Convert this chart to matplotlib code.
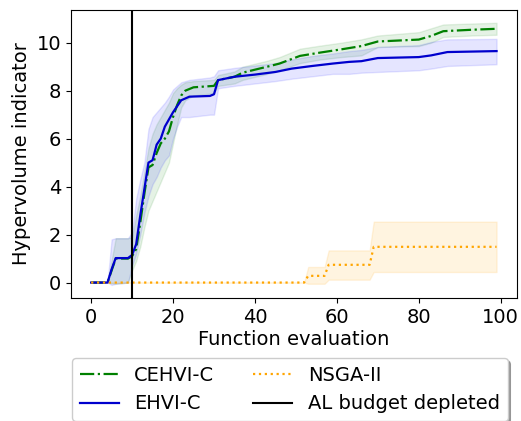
import matplotlib
matplotlib.use("Agg")
import matplotlib.pyplot as plt

# CEHVI-C (mean and band)
x_cehvi = [0, 4, 6, 9, 10, 11, 12, 13, 14, 15, 16, 17, 18, 19, 20, 21, 22, 23, 25, 30,
           31, 35, 37, 43, 46, 51, 56, 61, 66, 70, 80, 83, 86, 93, 99]
mean_cehvi = [0, 0, 1.0, 1.0, 1.1, 1.4, 2.5, 3.7, 4.8, 4.9, 5.4, 5.8, 6.0, 6.3, 6.9, 7.4, 7.8, 8.0, 8.14, 8.2,
              8.44, 8.58, 8.75, 9.0, 9.13, 9.45, 9.59, 9.72, 9.86, 10.05, 10.13, 10.28, 10.48, 10.54, 10.58]
lo_cehvi = [0, 0, -0.05, 0, 0.5, 0.9, 1.5, 2.3, 3.0, 3.4, 3.8, 4.2, 4.6, 5.0, 5.8, 6.6, 7.3, 7.6, 7.8, 7.9,
            8.2, 8.3, 8.45, 8.7, 8.85, 9.15, 9.3, 9.4, 9.47, 9.82, 9.86, 10.0, 10.24, 10.3, 10.33]
hi_cehvi = [0, 0, 1.85, 1.85, 1.9, 2.8, 3.6, 4.6, 5.6, 6.2, 6.6, 6.9, 7.2, 7.5, 7.9, 8.1, 8.25, 8.35, 8.4, 8.45,
            8.65, 8.8, 9.0, 9.25, 9.4, 9.75, 9.88, 10.0, 10.14, 10.3, 10.44, 10.6, 10.76, 10.8, 10.83]

# EHVI-C (mean and band)
x_ehvi = [0, 4, 5, 6, 9, 10, 11, 12, 13, 14, 15, 16, 17, 18, 19, 20, 21, 22, 24, 29, 30,
          31, 35, 40, 45, 49, 54, 59, 63, 66, 70, 80, 83, 87, 99]
mean_ehvi = [0, 0, 0.55, 1.02, 1.02, 1.15, 1.6, 2.8, 3.9, 5.0, 5.1, 5.75, 6.0, 6.5, 6.8, 7.1, 7.35, 7.6, 7.75, 7.78, 7.85,
             8.44, 8.58, 8.67, 8.78, 8.92, 9.03, 9.13, 9.2, 9.23, 9.36, 9.4, 9.47, 9.61, 9.65]
lo_ehvi = [0, 0, -0.1, -0.05, 0, 0.7, 1.2, 2.0, 2.9, 3.6, 4.1, 4.4, 4.8, 5.1, 5.3, 6.0, 6.5, 6.9, 6.9, 7.0, 7.0,
           8.1, 8.2, 8.3, 8.4, 8.5, 8.6, 8.7, 8.7, 8.75, 8.78, 8.85, 8.92, 9.03, 9.1]
hi_ehvi = [0, 0, 1.8, 1.85, 1.85, 2.1, 3.5, 4.3, 5.0, 6.4, 6.9, 7.1, 7.3, 7.5, 7.75, 8.05, 8.2, 8.35, 8.45, 8.55, 8.6,
           8.85, 8.95, 9.05, 9.15, 9.3, 9.45, 9.55, 9.65, 9.7, 9.82, 9.9, 10.03, 10.14, 10.16]

# NSGA-II (mean and band)
x_nsga = [0, 52, 53, 57, 58, 68, 69, 99]
mean_nsga = [0, 0, 0.28, 0.28, 0.74, 0.74, 1.49, 1.49]
lo_nsga = [0, 0, -0.05, -0.05, 0.12, 0.12, 0.44, 0.44]
hi_nsga = [0, 0, 0.65, 0.65, 1.34, 1.34, 2.54, 2.54]

al_budget = 10

plt.rcParams['font.size'] = 14

fig = plt.figure(figsize=(5.21, 4.21), dpi=100)
ax = fig.add_axes([0.136, 0.292, 0.856, 0.685])

ax.plot(x_cehvi, mean_cehvi, color='green', linestyle='-.', linewidth=1.6, label='CEHVI-C')
ax.fill_between(x_cehvi, lo_cehvi, hi_cehvi, color='green', alpha=0.1)

ax.plot(x_ehvi, mean_ehvi, color='mediumblue', linewidth=1.6, label='EHVI-C')
ax.fill_between(x_ehvi, lo_ehvi, hi_ehvi, color='blue', alpha=0.1)

ax.plot(x_nsga, mean_nsga, color='orange', linestyle=':', linewidth=1.6, label='NSGA-II')
ax.fill_between(x_nsga, lo_nsga, hi_nsga, color='orange', alpha=0.12)

ax.axvline(al_budget, color='black', linewidth=1.5, label='AL budget depleted')

ax.set_xlabel("Function evaluation", labelpad=2)
ax.set_ylabel("Hypervolume indicator")
ax.set_xticks([0, 20, 40, 60, 80, 100])

ax.legend(loc='upper center', bbox_to_anchor=(0.491, -0.174), ncol=2, shadow=True)

fig.savefig("out.png", dpi=100)
